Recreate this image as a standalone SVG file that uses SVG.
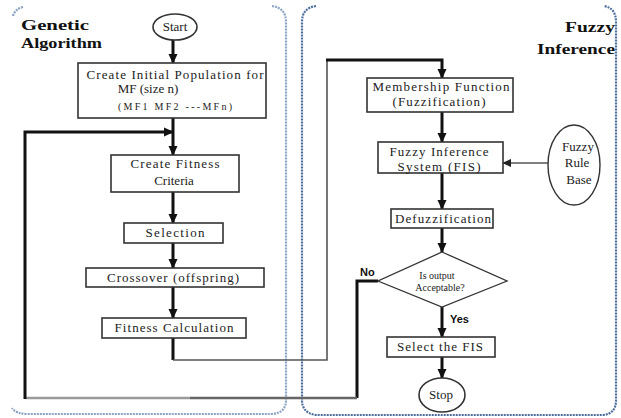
<svg xmlns="http://www.w3.org/2000/svg" width="621" height="418" viewBox="0 0 621 418" font-family="'Liberation Serif', 'DejaVu Serif', serif">
<defs>
<marker id="ah" markerUnits="userSpaceOnUse" markerWidth="10" markerHeight="10" viewBox="0 0 10 10" refX="9" refY="5" orient="auto">
<path d="M0,0.5 L10,5 L0,9.5 Z" fill="#111"/>
</marker>
<marker id="ahg" markerUnits="userSpaceOnUse" markerWidth="9" markerHeight="9" viewBox="0 0 10 10" refX="9" refY="5" orient="auto">
<path d="M0,0.5 L10,5 L0,9.5 Z" fill="#222"/>
</marker>
</defs>
<style>
.panelL{fill:none;stroke:#8aa3c4;stroke-width:2.2;stroke-dasharray:2 1}
.panelR{fill:none;stroke:#4d6e9c;stroke-width:2.2;stroke-dasharray:2 1}
.box{fill:#fff;stroke:#333;stroke-width:1.6}
.t{font-family:"Liberation Serif","DejaVu Serif",serif;font-size:13px;fill:#222;text-anchor:middle}
.ts{font-family:"Liberation Serif","DejaVu Serif",serif;font-size:10px;fill:#222;text-anchor:middle}
.h{font-family:"Liberation Serif","DejaVu Serif",serif;font-size:15px;font-weight:bold;fill:#111}
.lb{font-family:"Liberation Sans","DejaVu Sans",sans-serif;font-size:11px;font-weight:bold;fill:#111}
.a{fill:none;stroke:#111;stroke-width:3}
.g{fill:none;stroke:#555;stroke-width:1.6}
</style>
<rect width="621" height="418" fill="#fff"/>
<g id="panels">
<path class="panelL" d="M13,16 Q15,9 23,7"/>
<path class="panelL" d="M272,6 Q286,8 286,22 L286,400 Q286,413 272,414 L28,414 Q16,414 12,408"/>
<path class="panelR" d="M316,6 Q302,8 302,22 L302,400 Q302,413 316,415 L603,415 Q616,414 616,400 L616,22 Q616,8 604,6"/>
<text class="h" x="21" y="30" textLength="68" lengthAdjust="spacingAndGlyphs">Genetic</text>
<text class="h" x="21" y="48" textLength="81" lengthAdjust="spacingAndGlyphs">Algorithm</text>
<text class="h" x="565" y="32" textLength="50" lengthAdjust="spacingAndGlyphs">Fuzzy</text>
<text class="h" x="537" y="54" textLength="78" lengthAdjust="spacingAndGlyphs">Inference</text>
</g>
<g id="connectors">
<line class="a" x1="173" y1="39" x2="173" y2="63" marker-end="url(#ah)"/>
<line class="a" x1="173" y1="118" x2="173" y2="155" marker-end="url(#ah)"/>
<line class="a" x1="173" y1="192" x2="173" y2="223" marker-end="url(#ah)"/>
<line class="a" x1="173" y1="243" x2="173" y2="268" marker-end="url(#ah)"/>
<line class="a" x1="173" y1="287" x2="173" y2="318" marker-end="url(#ah)"/>
<path class="a" d="M173,338 L173,360"/>
<path class="g" d="M173,360 L327,360 L327,60"/>
<path class="a" d="M326,60 L442,60 L442,78" stroke-width="2.4" marker-end="url(#ah)"/>
<line class="a" x1="442" y1="112" x2="442" y2="142" marker-end="url(#ah)"/>
<line class="a" x1="442" y1="173" x2="442" y2="209" marker-end="url(#ah)"/>
<line class="a" x1="442" y1="228" x2="442" y2="252" marker-end="url(#ah)"/>
<line class="a" x1="442" y1="307" x2="442" y2="337" stroke="#444" stroke-width="2.4" marker-end="url(#ah)"/>
<line class="a" x1="442" y1="357" x2="442" y2="378" marker-end="url(#ah)"/>
<line class="g" x1="548" y1="163" x2="503" y2="163" stroke-width="2" marker-end="url(#ahg)"/>
<path class="a" d="M378,281 L357,281 L357,398" stroke-width="2.6"/>
<path fill="none" stroke="#666" stroke-width="2.4" d="M357,398 L190,398"/>
<path fill="none" stroke="#9a9a9a" stroke-width="2.4" d="M190,398 L25,398"/>
<path class="a" d="M25,399 L25,132 L173,132" marker-end="url(#ah)"/>
<text class="lb" x="360" y="276">No</text>
<text class="lb" x="450" y="323">Yes</text>
</g>
<g id="start">
<ellipse cx="175" cy="27" rx="22" ry="13" fill="#fff" stroke="#333" stroke-width="1.6"/>
<text class="t" x="175" y="31">Start</text>
</g>
<g id="init">
<rect class="box" x="78" y="63" width="188" height="55"/>
<text class="t" x="175" y="79" textLength="177" lengthAdjust="spacing">Create Initial Population for</text>
<text class="t" x="148" y="93">MF (size n)</text>
<text class="ts" x="175" y="110" textLength="114" lengthAdjust="spacing">(MF1 MF2 ---MFn)</text>
</g>
<g id="fitness-criteria">
<rect class="box" x="111" y="155" width="128" height="37"/>
<text class="t" x="175" y="168" textLength="89" lengthAdjust="spacing">Create Fitness</text>
<text class="t" x="174" y="185">Criteria</text>
</g>
<g id="selection">
<rect class="box" x="124" y="223" width="99" height="20"/>
<text class="t" x="175" y="237" textLength="59" lengthAdjust="spacing">Selection</text>
</g>
<g id="crossover">
<rect class="box" x="86" y="268" width="178" height="19"/>
<text class="t" x="173" y="282" textLength="132" lengthAdjust="spacing">Crossover (offspring)</text>
</g>
<g id="fitness-calc">
<rect class="box" x="102" y="318" width="144" height="20"/>
<text class="t" x="174" y="332" textLength="119" lengthAdjust="spacing">Fitness Calculation</text>
</g>
<g id="membership">
<rect class="box" x="367" y="78" width="146" height="34"/>
<text class="t" x="441" y="91" textLength="137" lengthAdjust="spacing">Membership Function</text>
<text class="t" x="439" y="106" textLength="93" lengthAdjust="spacing">(Fuzzification)</text>
</g>
<g id="fis">
<rect class="box" x="378" y="142" width="125" height="31"/>
<text class="t" x="439" y="156" textLength="99" lengthAdjust="spacing">Fuzzy Inference</text>
<text class="t" x="439" y="171" textLength="83" lengthAdjust="spacing">System (FIS)</text>
</g>
<g id="rule-base">
<ellipse cx="574" cy="165" rx="26" ry="40" fill="#fff" stroke="#333" stroke-width="1.4"/>
<text class="t" x="578" y="151">Fuzzy</text>
<text class="t" x="577" y="167">Rule</text>
<text class="t" x="579" y="184">Base</text>
</g>
<g id="defuzz">
<rect class="box" x="391" y="209" width="102" height="19"/>
<text class="t" x="443" y="223" textLength="96" lengthAdjust="spacing">Defuzzification</text>
</g>
<g id="decision">
<polygon points="442,252 507,281 442,307 378,281" fill="#fff" stroke="#333" stroke-width="1.3"/>
<text class="ts" x="437" y="279" font-size="11">Is output</text>
<text class="ts" x="440" y="291">Acceptable?</text>
</g>
<g id="select">
<rect class="box" x="387" y="337" width="108" height="20"/>
<text class="t" x="440" y="351" textLength="86" lengthAdjust="spacing">Select the FIS</text>
</g>
<g id="stop">
<ellipse cx="442" cy="395" rx="23" ry="17" fill="#fff" stroke="#333" stroke-width="1.6"/>
<text class="t" x="441" y="399">Stop</text>
</g>
</svg>
